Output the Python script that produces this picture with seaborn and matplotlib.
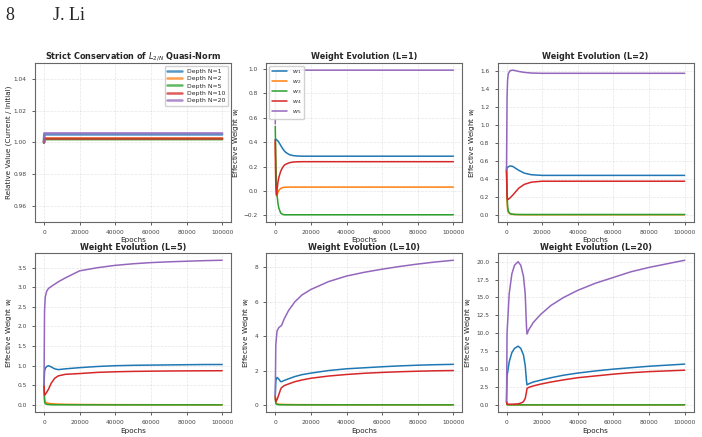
import matplotlib
matplotlib.use("Agg")
import matplotlib.pyplot as plt
import pandas as pd
import seaborn as sb

# panel 1: L_{2/N} quasi-norm ratio, one flat line per depth
norm_epochs = [0, 150, 100000]
depth_labels = ["Depth N=1", "Depth N=2", "Depth N=5", "Depth N=10", "Depth N=20"]
norm_ratio = {
    "Depth N=1": [1.0, 1.005, 1.005],
    "Depth N=2": [1.0, 1.0025, 1.0025],
    "Depth N=5": [1.0, 1.002, 1.002],
    "Depth N=10": [1.0, 1.0024, 1.0024],
    "Depth N=20": [1.0, 1.0058, 1.0058],
}

weight_labels = ["$w_1$", "$w_2$", "$w_3$", "$w_4$", "$w_5$"]

# L=1
ep_L1 = [0, 300, 700, 1000, 1500, 2000, 3000, 4000, 5000, 6000, 8000, 10000, 12000, 15000, 20000, 100000]
w_L1 = [
    [0.42, 0.425, 0.42, 0.415, 0.41, 0.40, 0.375, 0.35, 0.33, 0.315, 0.297, 0.29, 0.287, 0.285, 0.285, 0.285],
    [0.40, 0.05, -0.04, -0.035, -0.01, 0.005, 0.02, 0.027, 0.03, 0.031, 0.032, 0.032, 0.032, 0.032, 0.032, 0.032],
    [0.53, 0.25, 0.05, -0.03, -0.10, -0.14, -0.18, -0.19, -0.195, -0.195, -0.195, -0.195, -0.195, -0.195, -0.195, -0.195],
    [0.42, 0.05, -0.03, 0.01, 0.07, 0.11, 0.16, 0.19, 0.21, 0.22, 0.232, 0.237, 0.239, 0.24, 0.24, 0.24],
    [0.55, 0.93, 0.985, 0.99, 0.99, 0.99, 0.99, 0.99, 0.99, 0.99, 0.99, 0.99, 0.99, 0.99, 0.99, 0.99],
]

# L=2
ep_L2 = [0, 300, 600, 1000, 2000, 3500, 5000, 7000, 10000, 14000, 20000, 100000]
w_L2 = [
    [0.5, 0.52, 0.53, 0.535, 0.545, 0.54, 0.52, 0.495, 0.465, 0.447, 0.44, 0.44],
    [0.5, 0.15, 0.06, 0.03, 0.012, 0.006, 0.004, 0.003, 0.002, 0.002, 0.002, 0.002],
    [0.53, 0.25, 0.10, 0.04, 0.015, 0.008, 0.006, 0.005, 0.005, 0.005, 0.005, 0.005],
    [0.5, 0.20, 0.17, 0.175, 0.19, 0.22, 0.255, 0.30, 0.34, 0.365, 0.375, 0.375],
    [0.5, 1.30, 1.50, 1.57, 1.605, 1.61, 1.605, 1.595, 1.585, 1.578, 1.575, 1.575],
]

# L=5
ep_L5 = [0, 300, 700, 1500, 2500, 4000, 6000, 8000, 12000, 20000, 30000, 40000, 50000, 60000, 70000, 80000, 90000, 100000]
w_L5 = [
    [0.5, 0.85, 0.93, 0.98, 1.0, 0.97, 0.92, 0.90, 0.92, 0.95, 0.98, 1.0, 1.01, 1.015, 1.02, 1.025, 1.03, 1.03],
    [0.5, 0.15, 0.08, 0.05, 0.04, 0.03, 0.025, 0.02, 0.015, 0.01, 0.008, 0.006, 0.005, 0.004, 0.004, 0.003, 0.003, 0.003],
    [0.5, 0.08, 0.03, 0.015, 0.01, 0.005, 0.003, 0.002, 0.002, 0.001, 0.001, 0.001, 0.001, 0.001, 0.001, 0.001, 0.001, 0.001],
    [0.5, 0.25, 0.27, 0.32, 0.40, 0.55, 0.68, 0.74, 0.78, 0.80, 0.83, 0.845, 0.855, 0.86, 0.865, 0.868, 0.87, 0.872],
    [0.5, 2.4, 2.75, 2.9, 2.97, 3.02, 3.08, 3.14, 3.24, 3.42, 3.50, 3.56, 3.60, 3.63, 3.65, 3.665, 3.68, 3.69],
]

# L=10
ep_L10 = [0, 300, 1000, 2000, 3000, 3500, 5000, 7500, 11000, 15000, 20000, 30000, 40000, 50000, 60000, 70000, 80000, 90000, 100000]
w_L10 = [
    [0.5, 1.4, 1.6, 1.5, 1.36, 1.35, 1.42, 1.52, 1.65, 1.76, 1.85, 2.0, 2.1, 2.16, 2.22, 2.27, 2.31, 2.34, 2.36],
    [0.5, 0.15, 0.06, 0.04, 0.03, 0.03, 0.025, 0.02, 0.015, 0.012, 0.01, 0.008, 0.006, 0.005, 0.005, 0.004, 0.004, 0.004, 0.004],
    [0.4, 0.08, 0.02, 0.01, 0.005, 0.005, 0.003, 0.002, 0.002, 0.001, 0.001, 0.001, 0.001, 0.001, 0.001, 0.001, 0.001, 0.001, 0.001],
    [0.5, 0.2, 0.3, 0.6, 0.9, 1.0, 1.12, 1.22, 1.35, 1.45, 1.55, 1.68, 1.77, 1.84, 1.89, 1.93, 1.96, 1.985, 2.0],
    [0.5, 3.5, 4.3, 4.5, 4.58, 4.62, 5.0, 5.5, 6.0, 6.4, 6.72, 7.18, 7.5, 7.72, 7.9, 8.06, 8.2, 8.32, 8.42],
]

# L=20
ep_L20 = [0, 300, 1500, 3000, 4500, 6500, 8000, 9500, 10500, 11200, 11500, 12500, 15000, 19000, 25000, 32000, 40000, 50000, 60000, 70000, 80000, 90000, 100000]
w_L20 = [
    [0.5, 4.0, 6.0, 7.3, 7.9, 8.2, 7.9, 7.0, 5.5, 3.4, 2.8, 2.95, 3.2, 3.45, 3.8, 4.15, 4.45, 4.75, 5.0, 5.2, 5.4, 5.55, 5.7],
    [0.5, 0.05, 0.02, 0.015, 0.01, 0.01, 0.01, 0.01, 0.01, 0.01, 0.01, 0.01, 0.01, 0.01, 0.01, 0.01, 0.01, 0.01, 0.01, 0.01, 0.01, 0.01, 0.01],
    [0.4, 0.03, 0.01, 0.01, 0.01, 0.01, 0.01, 0.01, 0.01, 0.01, 0.01, 0.01, 0.01, 0.01, 0.01, 0.01, 0.01, 0.01, 0.01, 0.01, 0.01, 0.01, 0.01],
    [0.5, 0.1, 0.1, 0.1, 0.12, 0.15, 0.25, 0.45, 0.9, 1.8, 2.3, 2.45, 2.65, 2.9, 3.2, 3.5, 3.8, 4.05, 4.3, 4.5, 4.65, 4.75, 4.85],
    [0.5, 10.0, 15.5, 18.3, 19.5, 20.0, 19.5, 18.0, 15.5, 11.0, 9.9, 10.5, 11.5, 12.6, 13.9, 15.0, 16.0, 17.0, 17.8, 18.6, 19.2, 19.7, 20.2],
]

panels = [("Weight Evolution (L=1)", ep_L1, w_L1),
          ("Weight Evolution (L=2)", ep_L2, w_L2),
          ("Weight Evolution (L=5)", ep_L5, w_L5),
          ("Weight Evolution (L=10)", ep_L10, w_L10),
          ("Weight Evolution (L=20)", ep_L20, w_L20)]

sb.set_theme(style="ticks", rc={
    "axes.edgecolor": "#666666",
    "axes.linewidth": 0.8,
    "xtick.color": "#444444",
    "ytick.color": "#444444",
    "xtick.major.size": 2.5,
    "ytick.major.size": 2.5,
    "xtick.major.width": 0.6,
    "ytick.major.width": 0.6,
    "xtick.labelsize": 4.2,
    "ytick.labelsize": 4.2,
    "axes.labelsize": 5.2,
    "axes.titlesize": 5.9,
    "axes.titleweight": "bold",
    "axes.titlepad": 2.5,
    "axes.labelpad": 1.5,
    "axes.labelcolor": "#222222",
})
plt.rcParams["font.family"] = ["DejaVu Sans"]
palette = sb.color_palette("tab10", 5)

fig, axes = plt.subplots(2, 3, figsize=(7.02, 4.37), dpi=100)
fig.subplots_adjust(left=0.05, right=0.988, top=0.856, bottom=0.057, wspace=0.18, hspace=0.195)

fig.text(0.007, 0.955, "8", fontsize=13, family="Liberation Serif")
fig.text(0.075, 0.955, "J. Li", fontsize=13, family="Liberation Serif")

# conservation panel
ax = axes[0, 0]
rows = []
for lab in depth_labels:
    for e, v in zip(norm_epochs, norm_ratio[lab]):
        rows.append({"epoch": e, "value": v, "series": lab})
df = pd.DataFrame(rows)
sb.lineplot(data=df, x="epoch", y="value", hue="series", hue_order=depth_labels,
            palette=palette, linewidth=1.8, alpha=0.75, ax=ax)
ax.set_ylim(0.95, 1.05)
ax.set_title("Strict Conservation of $L_{2/N}$ Quasi-Norm")
ax.set_xlabel("Epochs")
ax.set_ylabel("Relative Value (Current / Initial)")
ax.legend(loc="upper right", fontsize=4.4, framealpha=0.9, handlelength=2.5,
          borderpad=0.4, labelspacing=0.35)

for k, (title, ep, ws) in enumerate(panels):
    ax = axes.flat[k + 1]
    rows = []
    for lab, vals in zip(weight_labels, ws):
        for e, v in zip(ep, vals):
            rows.append({"epoch": e, "value": v, "series": lab})
    df = pd.DataFrame(rows)
    sb.lineplot(data=df, x="epoch", y="value", hue="series", hue_order=weight_labels,
                palette=palette, linewidth=1.1, ax=ax, legend=(k == 0))
    ax.set_title(title)
    ax.set_xlabel("Epochs")
    ax.set_ylabel("Effective Weight $w_i$")
    if k == 0:
        ax.legend(loc="upper left", fontsize=4.4, framealpha=0.9, handlelength=2.5,
                  borderpad=0.4, labelspacing=0.35)

for ax in axes.flat:
    ax.grid(True, linestyle="--", linewidth=0.5, alpha=0.5)
    ax.set_xticks([0, 20000, 40000, 60000, 80000, 100000])
    ax.ticklabel_format(axis="x", style="plain", useOffset=False)

fig.savefig("out.png", dpi=100)
